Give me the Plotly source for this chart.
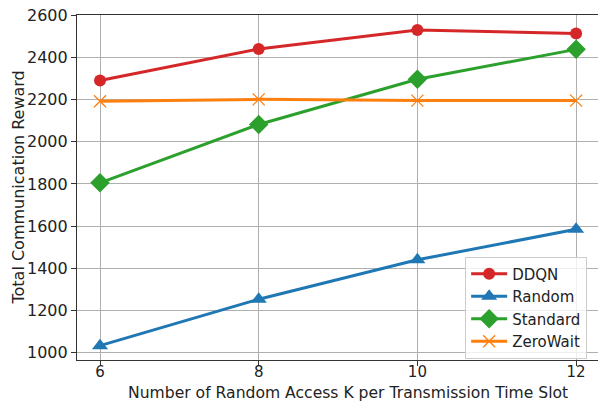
import plotly.graph_objects as go

k_values = [6, 8, 10, 12]
ddqn = [2290, 2440, 2530, 2513]
random_policy = [1033, 1253, 1440, 1585]
standard = [1805, 2082, 2296, 2438]
zerowait = [2192, 2201, 2195, 2195]
y_ticks = [1000, 1200, 1400, 1600, 1800, 2000, 2200, 2400, 2600]

series = [
    ("DDQN", ddqn, "#d62728", "circle", 12),
    ("Random", random_policy, "#1f77b4", "triangle-up", 14),
    ("Standard", standard, "#2ca02c", "diamond", 15),
    ("ZeroWait", zerowait, "#ff7f0e", "x-thin-open", 12),
]

fig = go.Figure()
for name, vals, color, sym, size in series:
    marker = dict(symbol=sym, size=size, color=color)
    if sym == "x-thin-open":
        marker = dict(symbol=sym, size=size, color=color, line=dict(color=color, width=1.3))
    fig.add_trace(go.Scatter(
        x=k_values, y=vals, name=name, mode="lines+markers",
        line=dict(color=color, width=3), marker=marker,
    ))

text_font = dict(family="DejaVu Sans", size=16, color="#222222")
small_font = dict(family="DejaVu Sans", size=15, color="#222222")
fig.update_layout(
    width=598, height=402,
    margin=dict(l=77, r=0, t=15, b=42),
    plot_bgcolor="white", paper_bgcolor="white",
    font=text_font,
    showlegend=True,
    legend=dict(
        x=0.745, y=0.30, xanchor="left", yanchor="top",
        bgcolor="rgba(255,255,255,0.8)", bordercolor="#cccccc", borderwidth=1,
        font=small_font, itemwidth=36, tracegroupgap=0,
    ),
    annotations=[
        dict(text="Number of Random Access K per Transmission Time Slot",
             xref="paper", yref="paper", x=(347.5 - 77) / 521, y=(360 - 392.5) / 345,
             xanchor="center", yanchor="middle", showarrow=False,
             font=dict(family="DejaVu Sans", size=15.6, color="#222222")),
        dict(text="Total Communication Reward",
             xref="paper", yref="paper", x=(18 - 77) / 521, y=0.5,
             xanchor="center", yanchor="middle", textangle=-90,
             showarrow=False, font=text_font),
    ],
)
fig.update_xaxes(
    range=[5.71, 12.276], tickvals=k_values, ticktext=[str(v) for v in k_values],
    showgrid=True, gridcolor="#b0b0b0", gridwidth=1,
    showline=True, linecolor="#333333", linewidth=1.2, mirror=True,
    ticks="outside", ticklen=5, tickcolor="#333333",
    zeroline=False, ticklabelstandoff=-7,
    tickfont=small_font,
)
fig.update_yaxes(
    range=[965, 2601], tickvals=y_ticks,
    showgrid=True, gridcolor="#b0b0b0", gridwidth=1,
    showline=True, linecolor="#333333", linewidth=1.2,
    ticks="outside", ticklen=5, tickcolor="#333333",
    zeroline=False,
    tickfont=text_font,
)

fig.write_html("out.html")
